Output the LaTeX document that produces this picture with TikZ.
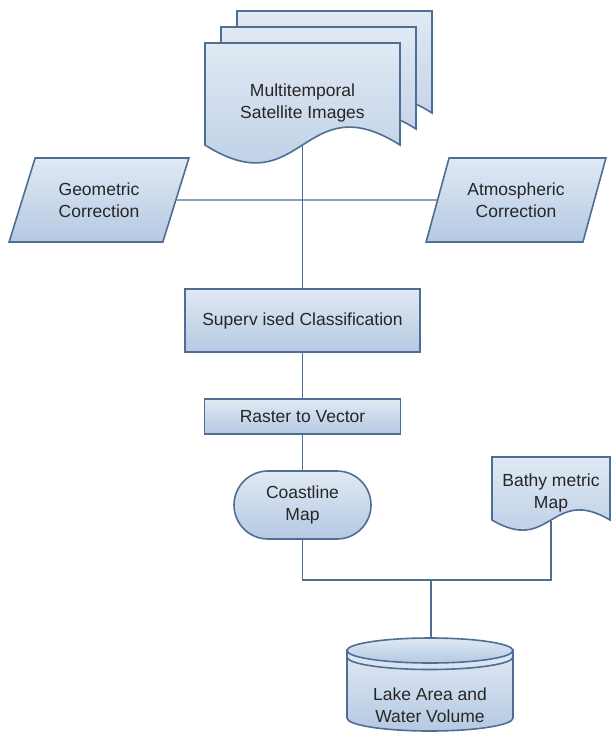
\documentclass[tikz,border=0pt]{standalone}
\usepackage{fontspec}
\setmainfont{Liberation Sans}
\usetikzlibrary{positioning, shapes.geometric}
\definecolor{edgeblue}{HTML}{4F6E93}
\definecolor{topblue}{HTML}{E0E9F4}
\definecolor{botblue}{HTML}{B5C9E2}
\definecolor{inkgray}{HTML}{262626}
\tikzstyle{shapefill} = [draw=edgeblue, line width=1.6pt, top color=topblue, bottom color=botblue]
\tikzstyle{process} = [rectangle, shapefill, text centered, align=center, text=inkgray]
\tikzstyle{data} = [trapezium, trapezium left angle=67, trapezium right angle=113, trapezium stretches=true, minimum width=180pt, minimum height=84pt, shapefill, align=center, text=inkgray]
\tikzstyle{terminal} = [rectangle, rounded corners=34pt, minimum width=137pt, minimum height=68pt, shapefill, align=center, text=inkgray]
\tikzstyle{docnode} = [rectangle, align=center, text=inkgray]
\tikzstyle{link} = [draw=edgeblue, line width=1.4pt]

\begin{document}
\begin{tikzpicture}[x=1pt, y=-1pt, font=\fontsize{17.5pt}{22.5pt}\selectfont]
    \useasboundingbox (0,0) rectangle (614,732);

    % Document outlines
    \draw [shapefill] (237,11) -- (432,11) -- (432,113) .. controls (334.5,51) and (334.5,175) .. (237,113) -- cycle;
    \draw [shapefill] (221,27) -- (416,27) -- (416,129) .. controls (318.5,67) and (318.5,191) .. (221,129) -- cycle;
    \draw [shapefill] (205,43) -- (400,43) -- (400,145) .. controls (302.5,83) and (302.5,207) .. (205,145) -- cycle;
    \draw [shapefill] (492,457) -- (610,457) -- (610,520) .. controls (551,485) and (551,555) .. (492,520) -- cycle;

    % Storage
    \draw [shapefill] (347,650) -- (347,718) arc[start angle=180, end angle=0, x radius=83, y radius=13] -- (513,650) -- cycle;
    \draw [shapefill] (430,650.5) ellipse [x radius=83, y radius=12.5];
    \draw [draw=edgeblue, line width=1.6pt] (347,657) arc[start angle=180, end angle=0, x radius=83, y radius=12.5];

    % Nodes
    \node (multi) [docnode, minimum width=195pt, minimum height=84pt] at (302.5,103) {Multitemporal\\Satellite Images};
    \node (geo) [data] at (99,200) {Geometric\\Correction};
    \node (atm) [data] at (516,200) {Atmospheric\\Correction};
    \node (superv) [process, minimum width=235pt, minimum height=63pt] at (302.5,320.5) {Superv ised Classification};
    \node (raster) [process, minimum width=196pt, minimum height=35pt] at (302.5,416.5) {Raster to Vector};
    \node (coast) [terminal] at (302.5,505) {Coastline\\Map};
    \node (bath) [docnode, minimum width=118pt, minimum height=56pt] at (551,493) {Bathy metric\\Map};
    \node (lake) [docnode] at (430,705) {Lake Area and\\Water Volume};
    \coordinate (merge) at (431,580);
    \coordinate (laketop) at (431,638);

    % Connectors
    \draw [link] (multi.south) -- (superv.north);
    \draw [link] (geo.east) -- (atm.west);
    \draw [link] (superv.south) -- (raster.north);
    \draw [link] (raster.south) -- (coast.north);
    \draw [link] (coast.south) |- (merge) -| (bath.south);
    \draw [link] (merge) -- (laketop);

\end{tikzpicture}
\end{document}
